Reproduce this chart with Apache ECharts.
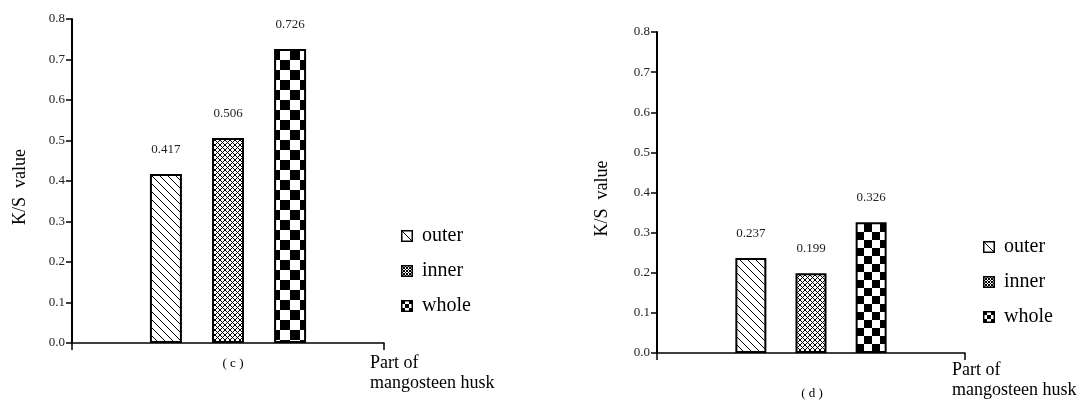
<!DOCTYPE html>
<html>
<head>
<meta charset="utf-8">
<script src="https://cdn.jsdelivr.net/npm/echarts@6/dist/echarts.min.js"></script>
<style>
  html, body { margin: 0; padding: 0; background: #fff; }
  #chart { width: 1088px; height: 400px; }
</style>
</head>
<body>
<div id="chart"></div>
<script>
// Parts of the mangosteen husk and their K/S values for panels (c) and (d)
const parts = ['outer', 'inner', 'whole'];
const ksC = [0.417, 0.506, 0.726];
const ksD = [0.237, 0.199, 0.326];
const panelCaptions = ['( c )', '( d )'];
const yMin = 0.0;
const yMax = 0.8;
const yStep = 0.1;
const yName = 'K/S  value';
const xName = 'Part of\nmangosteen husk';

const SERIF = '"Liberation Serif", "Times New Roman", serif';

// ---- fill patterns drawn on small tiles ----
function makeCanvas(w, h) {
  const c = document.createElement('canvas');
  c.width = w; c.height = h;
  const ctx = c.getContext('2d');
  ctx.fillStyle = '#fff';
  ctx.fillRect(0, 0, w, h);
  ctx.strokeStyle = '#000';
  ctx.fillStyle = '#000';
  return { c, ctx };
}
function tile(size, draw) {
  const { c, ctx } = makeCanvas(size, size);
  draw(ctx, size);
  return { image: c, repeat: 'repeat' };
}
function hatchTile(size) {
  return tile(size, (ctx, s) => {
    ctx.lineWidth = 1;
    ctx.beginPath();
    ctx.moveTo(-2, -2); ctx.lineTo(s + 2, s + 2);
    ctx.moveTo(-2, s - 2); ctx.lineTo(2, s + 2);
    ctx.moveTo(s - 2, -2); ctx.lineTo(s + 2, 2);
    ctx.stroke();
  });
}
function crossTile(size) {
  return tile(size, (ctx, s) => {
    ctx.lineWidth = 1;
    ctx.beginPath();
    ctx.moveTo(-1, -1); ctx.lineTo(s + 1, s + 1);
    ctx.moveTo(s + 1, -1); ctx.lineTo(-1, s + 1);
    ctx.stroke();
  });
}
function checkerTile(cell) {
  return tile(cell * 2, (ctx) => {
    ctx.fillRect(0, 0, cell, cell);
    ctx.fillRect(cell, cell, cell, cell);
  });
}

// ---- small framed legend swatches ----
function swatch(kind) {
  const s = 12;
  const { c, ctx } = makeCanvas(s, s);
  ctx.lineWidth = 1;
  if (kind === 'outer') {
    ctx.beginPath(); ctx.moveTo(1, 1); ctx.lineTo(s - 1, s - 1); ctx.stroke();
  } else if (kind === 'inner') {
    ctx.beginPath();
    for (let k = -s; k <= s; k += 3) {
      ctx.moveTo(k, 0); ctx.lineTo(k + s, s);
      ctx.moveTo(k + s, 0); ctx.lineTo(k, s);
    }
    ctx.stroke();
  } else {
    const cell = 4;
    for (let y = 0; y < s; y += cell) {
      for (let x = 0; x < s; x += cell) {
        if (((x + y) / cell) % 2 === 0) ctx.fillRect(x, y, cell, cell);
      }
    }
  }
  ctx.lineWidth = 1.5;
  ctx.strokeRect(0.75, 0.75, s - 1.5, s - 1.5);
  return 'image://' + c.toDataURL();
}
const legendIcons = parts.map(swatch);

const fillsC = [hatchTile(8), crossTile(5), checkerTile(10)];
const fillsD = [hatchTile(8), crossTile(5), checkerTile(8)];

// ---- layout of the two panels ----
const panels = [
  { values: ksC, fills: fillsC, grid: { left: 72, top: 19, width: 312, height: 324 },
    barWidth: 32, nameGap: 43, xNameGap: -14, xNamePadTop: 10,
    caption: { x: 233, y: 357 },
    legend: { left: 401, top: 226 } },
  { values: ksD, fills: fillsD, grid: { left: 657, top: 32, width: 308, height: 324 },
    barWidth: 31, nameGap: 46, xNameGap: -13, xNamePadTop: 7,
    caption: { x: 812, y: 387 },
    legend: { left: 983, top: 237 } }
];

const option = {
  animation: false,
  backgroundColor: '#fff',
  textStyle: { fontFamily: SERIF, color: '#000' },
  grid: panels.map(p => Object.assign({ containLabel: false }, p.grid)),
  title: panels.map((p, i) => ({
    text: panelCaptions[i],
    left: p.caption.x,
    top: p.caption.y,
    padding: 0,
    textAlign: 'center',
    textStyle: { fontFamily: SERIF, fontSize: 13, fontWeight: 'normal', color: '#000' }
  })),
  legend: panels.map(p => ({
    data: parts.map((name, k) => ({ name: name, icon: legendIcons[k] })),
    orient: 'vertical',
    left: p.legend.left,
    top: p.legend.top,
    padding: 0,
    itemWidth: 12,
    itemHeight: 12,
    itemGap: 15,
    selectedMode: false,
    textStyle: { fontFamily: SERIF, fontSize: 20, color: '#000', padding: [0, 0, 0, 4] }
  })),
  xAxis: panels.map((p, i) => ({
    type: 'category',
    gridIndex: i,
    data: [''],
    name: xName,
    nameLocation: 'end',
    nameGap: p.xNameGap,
    nameTextStyle: {
      fontFamily: SERIF, fontSize: 18, color: '#000',
      align: 'left', verticalAlign: 'top', lineHeight: 20,
      padding: [p.xNamePadTop, 0, 0, 0]
    },
    axisLine: { lineStyle: { color: '#000', width: 1.5 } },
    axisTick: { show: true, length: 7, lineStyle: { color: '#000', width: 1.5 } },
    axisLabel: { show: false },
    splitLine: { show: false }
  })),
  yAxis: panels.map((p, i) => ({
    type: 'value',
    gridIndex: i,
    min: yMin,
    max: yMax,
    interval: yStep,
    name: yName,
    nameLocation: 'middle',
    nameGap: p.nameGap,
    nameTextStyle: { fontFamily: SERIF, fontSize: 18, color: '#000', padding: [0, 12, 0, 0] },
    axisLine: { show: true, lineStyle: { color: '#000', width: 2 } },
    axisTick: { show: true, length: 6, lineStyle: { color: '#000', width: 1.5 } },
    axisLabel: {
      margin: 7,
      fontFamily: SERIF, fontSize: 13, color: '#222',
      formatter: v => v.toFixed(1)
    },
    splitLine: { show: false }
  })),
  series: []
};

panels.forEach((p, pi) => {
  parts.forEach((name, k) => {
    option.series.push({
      type: 'bar',
      name: name,
      xAxisIndex: pi,
      yAxisIndex: pi,
      data: [p.values[k]],
      barWidth: p.barWidth,
      barGap: '94%',
      itemStyle: { color: p.fills[k], borderColor: '#000', borderWidth: 2 },
      label: {
        show: true,
        position: 'top',
        distance: 18,
        fontFamily: SERIF,
        fontSize: 13,
        color: '#222',
        formatter: d => d.value.toFixed(3)
      }
    });
  });
});

const chart = echarts.init(document.getElementById('chart'), null, { renderer: 'canvas' });
chart.setOption(option);
</script>
</body>
</html>
